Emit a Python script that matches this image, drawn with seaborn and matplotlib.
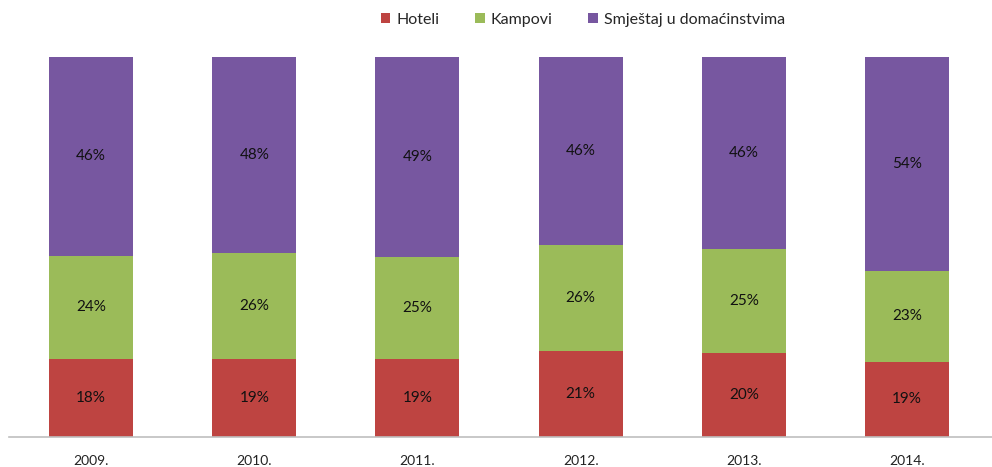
import numpy as np
import pandas as pd
import matplotlib
matplotlib.use("Agg")
import matplotlib.pyplot as plt
import seaborn as sns
from matplotlib.patches import Patch

years = ["2009.", "2010.", "2011.", "2012.", "2013.", "2014."]
hoteli = [18, 19, 19, 21, 20, 19]
kampovi = [24, 26, 25, 26, 25, 23]
smjestaj = [46, 48, 49, 46, 46, 54]

series_names = ["Hoteli", "Kampovi", "Smještaj u domaćinstvima"]
colors = ["#BE4441", "#9BBB59", "#7757A0"]

sns.set_theme(style="white")
plt.rcParams["font.family"] = ["Lato", "DejaVu Sans"]

df = pd.DataFrame({"year": years, "Hoteli": hoteli, "Kampovi": kampovi,
                   "Smještaj u domaćinstvima": smjestaj})
total = df[series_names].sum(axis=1)
shares = df[series_names].div(total, axis=0)
cum = shares.cumsum(axis=1)

fig = plt.figure(figsize=(9.92, 4.67), dpi=100)
ax = fig.add_axes([9.4 / 992, 1 - 437 / 467, 982.6 / 992, 380 / 467])

# 100% stacked bars: draw cumulative tops from the largest down
for name, color in reversed(list(zip(series_names, colors))):
    sns.barplot(x=df["year"], y=cum[name], color=color, width=0.515,
                saturation=1, ax=ax, linewidth=0)

# value labels centred in each segment
for i in range(len(years)):
    bottom = 0.0
    for name in series_names:
        h = shares.loc[i, name]
        ax.text(i, bottom + h / 2, f"{df.loc[i, name]}%", ha="center",
                va="center", fontsize=11, color="#111111")
        bottom += h

ax.set_ylim(0, 1)
ax.set_xlim(-0.5, 5.52)
ax.set_xlabel("")
ax.set_ylabel("")
ax.set_yticks([])
for s in ["top", "left", "right"]:
    ax.spines[s].set_visible(False)
ax.spines["bottom"].set_color("#BFBFBF")
ax.spines["bottom"].set_linewidth(1.2)
ax.tick_params(axis="x", length=0, pad=13, labelsize=10, labelcolor="#222222")

handles = [Patch(facecolor=c, edgecolor="none") for c in colors]
fig.legend(handles, series_names, loc="center", ncol=3,
           bbox_to_anchor=(583 / 992, 1 - 20 / 467), frameon=False,
           fontsize=11.5, handlelength=0.6, handleheight=0.6,
           handletextpad=0.4, columnspacing=2.2)

fig.savefig("out.png", dpi=100)
